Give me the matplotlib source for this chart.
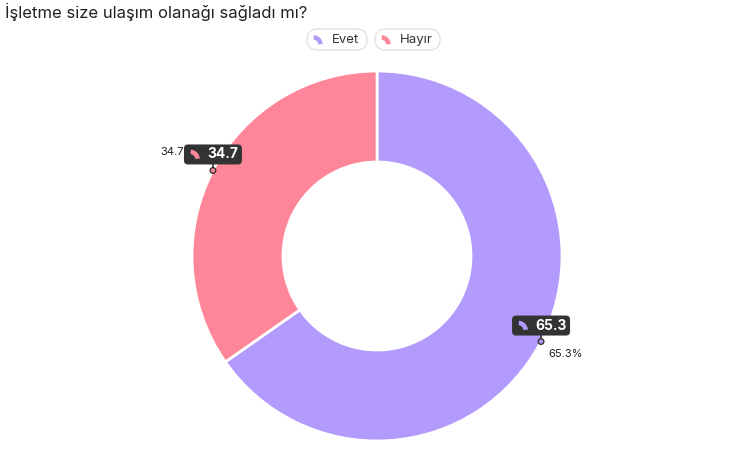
import numpy as np
import matplotlib.pyplot as plt
from matplotlib.patches import Wedge, FancyBboxPatch, Circle

plt.rcParams['font.family'] = ['Inter', 'DejaVu Sans']

categories = ['Evet', 'Hayır']
values = [65.3, 34.7]
colors = ['#b39afd', '#ff8698']
title = 'İşletme size ulaşım olanağı sağladı mı?'

W, H = 752, 453
fig = plt.figure(figsize=(W / 100, H / 100), dpi=100)
ax = fig.add_axes([0, 0, 1, 1])
ax.set_xlim(0, W)
ax.set_ylim(0, H)
ax.axis('off')


def Y(y):
    # image row -> axis y
    return H - y


cx, cy = 377, Y(256)
R = 185
ring = 91

ax.pie(values, colors=colors, startangle=90, counterclock=False,
       radius=R, center=(cx, cy),
       wedgeprops=dict(width=ring, edgecolor='white', linewidth=2))
ax.set_xlim(0, W)
ax.set_ylim(0, H)
ax.set_aspect('equal')


def small_arc(x, y, color, size=7, z=8):
    # little ring-segment icon
    w = Wedge((x - size * 0.7, y - size * 0.7), size * 1.4, 5, 85,
              width=size * 0.65, facecolor=color, edgecolor='none', zorder=z)
    ax.add_patch(w)


total = sum(values)
start = 90
for i, (cat, v, col) in enumerate(zip(categories, values, colors)):
    span = v / total * 360
    mid = np.deg2rad(start - span / 2)
    start -= span
    mx = cx + R * np.cos(mid)
    my = cy + R * np.sin(mid)
    right = np.cos(mid) > 0
    # outside label
    txt = f'{v}%' if right else f'{v}'
    ax.text(mx + 7 if right else mx - 29, my - 12 if right else my + 18, txt,
            fontsize=8, color='#222222',
            ha='left' if right else 'right', va='center')
    # tooltip box
    bw, bh = 58, 20
    bx, by = mx - bw / 2, my + 6
    ax.add_patch(FancyBboxPatch((bx, by), bw, bh,
                                boxstyle='round,pad=0,rounding_size=4',
                                facecolor='#333333', edgecolor='none', zorder=5))
    ax.plot([mx, mx], [my, by], color='#333333', lw=1.2, zorder=5)
    ax.add_patch(Circle((mx, my), 2.8, facecolor=col, edgecolor='#333333',
                        lw=1, zorder=6))
    small_arc(bx + 11, by + bh / 2, col, size=7)
    ax.text(bx + 23, by + bh / 2, f'{v}', fontsize=10, fontweight='bold',
            color='white', ha='left', va='center', zorder=7)

# legend pills
pills = [(307, 60), (375, 65)]
for (px, pw), cat, col in zip(pills, categories, colors):
    ax.add_patch(FancyBboxPatch((px, Y(50)), pw, 21,
                                boxstyle='round,pad=0,rounding_size=10.5',
                                facecolor='white', edgecolor='#e3e3e3',
                                lw=1, zorder=5))
    small_arc(px + 11, Y(40), col, size=7)
    ax.text(px + 25, Y(40), cat, fontsize=9.5, color='#333333',
            ha='left', va='center', zorder=6)

ax.text(5, Y(12), title, fontsize=12, color='#222222', ha='left', va='center')

fig.savefig('out.png', dpi=100)
